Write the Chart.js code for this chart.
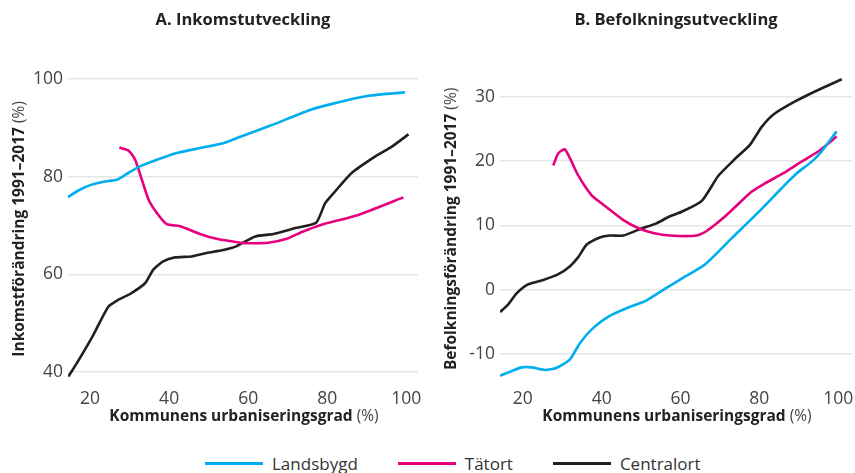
<!DOCTYPE html>
<html>
<head>
<meta charset="UTF-8">
<title>Inkomst- och befolkningsutveckling</title>
<script src="https://cdn.jsdelivr.net/npm/chart.js"></script>
<style>
  body { margin: 0; width: 855px; height: 473px; background: #fff; position: relative; overflow: hidden; font-family: "Open Sans", sans-serif; }
  canvas { position: absolute; top: 0; }
  #chartA { left: 0; }
  #chartB { left: 430px; }
  #legend { position: absolute; left: 205px; top: 452px; display: flex; align-items: center; font-size: 17px; color: #333; white-space: nowrap; }
  .item { display: flex; align-items: center; margin-right: 40px; }
  .swatch { width: 58px; height: 3px; margin-right: 9px; }
</style>
</head>
<body>
<canvas id="chartA" width="430" height="440"></canvas>
<canvas id="chartB" width="425" height="440"></canvas>
<div id="legend"></div>
<script>
// series names and colours
const seriesNames = ['Landsbygd', 'Tätort', 'Centralort'];
const seriesColors = ['#00aeef', '#e6007e', '#231f20'];

// tick labels
const xTicks = [20, 40, 60, 80, 100];
const incTicks = [40, 60, 80, 100];
const popTicks = [-10, 0, 10, 20, 30];

// A. Inkomstutveckling (urbaniseringsgrad -> förändring %)
const incLandX = [14.3, 17, 20, 23.4, 26.8, 29.3, 32.2, 36.9, 41.5, 47.8, 53.7, 58, 66, 75.3, 82, 90.5, 99.7];
const incLandY = [75.8, 77.2, 78.3, 79.0, 79.4, 80.6, 82.0, 83.5, 84.8, 85.9, 86.9, 88.2, 90.6, 93.6, 95.1, 96.6, 97.3];
const incTatX = [27.4, 29.7, 31.4, 33.1, 34.8, 36.9, 39.4, 42.8, 47.8, 52, 58, 60.1, 65.1, 69.8, 73.6, 78.6, 87.9, 99.3];
const incTatY = [86.0, 85.4, 83.5, 79.4, 75.3, 72.6, 70.3, 69.9, 68.3, 67.3, 66.5, 66.4, 66.5, 67.3, 68.7, 70.2, 72.2, 75.8];
const incCenX = [14.5, 16.6, 20.8, 24.6, 27.1, 30.1, 33.9, 36, 38.5, 41.5, 45.7, 49.5, 53.7, 57.1, 61.8, 66.4, 71.9, 77.2, 79.5, 82, 86.2, 92.2, 96.4, 100.6];
const incCenY = [39.1, 41.8, 47.6, 53.4, 54.8, 56.0, 58.2, 61.0, 62.7, 63.5, 63.7, 64.4, 65.0, 65.8, 67.8, 68.3, 69.5, 70.6, 74.6, 77.0, 80.8, 84.2, 86.2, 88.7];

// B. Befolkningsutveckling
const popLandX = [14.2, 16.7, 19.7, 22.2, 25.6, 28.5, 31.9, 34.5, 37.8, 41.7, 46.3, 51, 56, 61.1, 66.2, 73, 79.7, 85.7, 89.5, 93.3, 95.8, 99.6];
const popLandY = [-13.4, -12.8, -12.1, -12.1, -12.5, -12.2, -10.9, -8.3, -6.0, -4.2, -2.9, -1.8, 0.1, 2.0, 3.9, 8.0, 12.0, 15.8, 18.1, 19.9, 21.5, 24.6];
const popTatX = [27.7, 29, 30.7, 34, 37.4, 40.4, 45.5, 49.5, 53.1, 57.3, 64.1, 66.6, 71.7, 78, 81.4, 86.1, 90.7, 95, 99.6];
const popTatY = [19.3, 21.2, 21.8, 17.8, 14.7, 13.2, 10.8, 9.5, 8.8, 8.4, 8.4, 9.1, 11.6, 15.2, 16.5, 18.1, 19.9, 21.5, 23.8];
const popCenX = [14.2, 16.3, 18.4, 21.3, 25.2, 29, 31.9, 34, 36.2, 39.5, 42.1, 45.5, 49.7, 53.9, 57.3, 60.3, 65.4, 69.6, 73.8, 77.6, 80.6, 83.5, 88.6, 94.1, 100.9];
const popCenY = [-3.5, -2.3, -0.6, 0.8, 1.5, 2.4, 3.6, 5.0, 7.0, 8.1, 8.4, 8.4, 9.4, 10.3, 11.4, 12.1, 13.8, 17.7, 20.3, 22.5, 25.3, 27.2, 29.1, 30.8, 32.7];

Chart.defaults.font.family = '"Open Sans", sans-serif';
Chart.defaults.color = '#444';

function pts(xs, ys) {
    return xs.map((x, i) => ({x: x, y: ys[i]}));
}

function makeDatasets(list) {
    return list.map((d, i) => ({
        label: seriesNames[i],
        data: pts(d[0], d[1]),
        borderColor: seriesColors[i],
        borderWidth: 2.6,
        pointRadius: 0,
        tension: 0.2,
        fill: false
    }));
}

// draws "bold part (%)" titles, the (%) in normal weight
function drawMixed(ctx, text, cx, cy, rot) {
    ctx.save();
    ctx.translate(cx, cy);
    ctx.rotate(rot);
    ctx.textBaseline = 'middle';
    ctx.textAlign = 'left';
    ctx.font = 'bold 15.5px "Open Sans"';
    const w1 = ctx.measureText(text + ' ').width;
    ctx.font = '15.5px "Open Sans"';
    const w2 = ctx.measureText('(%)').width;
    const x0 = -(w1 + w2) / 2;
    ctx.font = 'bold 15.5px "Open Sans"';
    ctx.fillStyle = '#222';
    ctx.fillText(text + ' ', x0, 0);
    ctx.font = '15.5px "Open Sans"';
    ctx.fillStyle = '#444';
    ctx.fillText('(%)', x0 + w1, 0);
    ctx.restore();
}

const axisTitles = {
    id: 'axisTitles',
    afterDraw(chart, args, opts) {
        const a = chart.chartArea;
        drawMixed(chart.ctx, opts.x, (a.left + a.right) / 2 + 1, 417, 0);
        drawMixed(chart.ctx, opts.y, opts.yTitleX, (a.top + a.bottom) / 2 + 3, -Math.PI / 2);
    }
};

function makeChart(id, title, yTitle, yTitleX, datasets, yTicks, ymin, ymax, yWidth, xmin, xmax, padRight) {
    return new Chart(document.getElementById(id), {
        type: 'line',
        data: { datasets: datasets },
        plugins: [axisTitles],
        options: {
            responsive: false,
            animation: false,
            layout: { padding: { left: 0, right: padRight, top: 0, bottom: 0 } },
            plugins: {
                legend: { display: false },
                tooltip: { enabled: false },
                title: {
                    display: true,
                    text: title,
                    fullSize: false,
                    color: '#222',
                    font: { size: 16.5, weight: 'bold' },
                    padding: { top: 10, bottom: 45 }
                },
                axisTitles: { x: 'Kommunens urbaniseringsgrad', y: yTitle, yTitleX: yTitleX }
            },
            scales: {
                x: {
                    type: 'linear',
                    min: xmin,
                    max: xmax,
                    afterBuildTicks: s => { s.ticks = xTicks.map(v => ({value: v})); },
                    afterFit: s => { s.height = 63; s.paddingLeft = 0; s.paddingRight = 0; },
                    grid: { display: false },
                    border: { display: false },
                    ticks: { font: { size: 17.5 }, color: '#444', padding: 4, maxRotation: 0 }
                },
                y: {
                    min: ymin,
                    max: ymax,
                    afterBuildTicks: s => { s.ticks = yTicks.map(v => ({value: v})); },
                    afterFit: s => { s.width = yWidth; s.paddingTop = 0; s.paddingBottom = 0; },
                    grid: { color: '#e6e6e6', lineWidth: 1.5, drawTicks: false },
                    border: { display: false },
                    ticks: { font: { size: 17.5 }, color: '#444', padding: 5 }
                }
            }
        }
    });
}

makeChart('chartA', 'A. Inkomstutveckling', 'Inkomstförändring 1991–2017', 20,
    makeDatasets([[incLandX, incLandY], [incTatX, incTatY], [incCenX, incCenY]]),
    incTicks, 39, 100.9, 68, 14.4, 103, 12);

makeChart('chartB', 'B. Befolkningsutveckling', 'Befolkningsförändring 1991–2017', 22,
    makeDatasets([[popLandX, popLandY], [popTatX, popTatY], [popCenX, popCenY]]),
    popTicks, -13.6, 33.4, 70, 14.2, 103.5, 3);

// shared legend under both panels
const legend = document.getElementById('legend');
seriesNames.forEach((name, i) => {
    const item = document.createElement('div');
    item.className = 'item';
    const sw = document.createElement('span');
    sw.className = 'swatch';
    sw.style.background = seriesColors[i];
    const label = document.createElement('span');
    label.textContent = name;
    item.appendChild(sw);
    item.appendChild(label);
    legend.appendChild(item);
});
</script>
</body>
</html>
